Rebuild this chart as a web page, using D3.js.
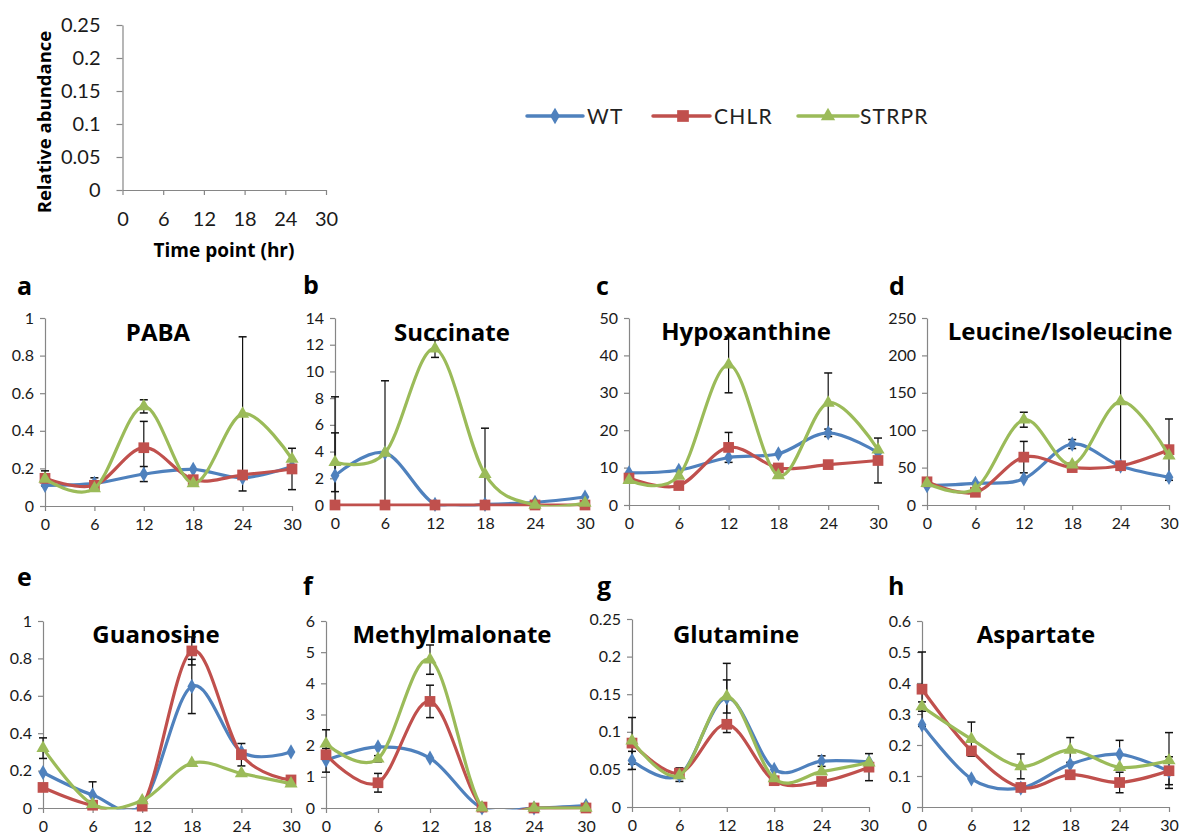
<!DOCTYPE html>
<html>
<head>
<meta charset="utf-8">
<script src="https://cdn.jsdelivr.net/npm/d3@7"></script>
<style>
  html, body { margin: 0; padding: 0; background: #fff; }
  svg { display: block; font-family: Lato, "Open Sans", "Liberation Sans", sans-serif; }
</style>
</head>
<body>
<svg id="chart" width="1179" height="834"></svg>
<script>
// ---------------- DATA ----------------
const timePoints = [0, 6, 12, 18, 24, 30];
const xTickLabels = ["0", "6", "12", "18", "24", "30"];
const seriesNames = ["WT", "CHLR", "STRPR"];
const seriesColors = ["#4F81BD", "#C0504D", "#9BBB59"];

const panelLetters = ["a", "b", "c", "d", "e", "f", "g", "h"];
const panelTitles = ["PABA", "Succinate", "Hypoxanthine", "Leucine/Isoleucine",
                     "Guanosine", "Methylmalonate", "Glutamine", "Aspartate"];

// values per series: [WT, CHLR, STRPR]
const paba = [
  [0.11, 0.12, 0.17, 0.195, 0.15, 0.21],
  [0.147, 0.11, 0.31, 0.14, 0.165, 0.197],
  [0.144, 0.094, 0.53, 0.12, 0.49, 0.25]
];
const pabaErr = [
  [0, 0.03, 0.04, 0, 0, 0],
  [0.04, 0, 0.14, 0, 0, 0.11],
  [0, 0, 0.035, 0, 0.41, 0]
];
const succinate = [
  [2.2, 3.9, 0.05, 0.05, 0.2, 0.6],
  [0, 0, 0, 0, 0, 0],
  [3.2, 3.9, 11.7, 2.3, 0, 0.15]
];
const succinateErr = [
  [5.9, 5.4, 0, 0, 0, 0],
  [0, 0, 0, 0, 0, 0],
  [2.2, 0, 0.65, 3.45, 0, 0]
];
const hypoxanthine = [
  [8.6, 9.3, 12.7, 13.7, 19.3, 14.0],
  [7.2, 5.2, 15.4, 9.9, 10.8, 11.9],
  [6.6, 7.8, 37.5, 7.9, 27.3, 14.8]
];
const hypoxanthineErr = [
  [0, 0, 0, 0, 1, 0],
  [0, 0, 4, 0, 0, 6],
  [0, 0, 7.5, 0, 8, 0]
];
const leucine = [
  [25.8, 29, 35, 81.5, 52, 37],
  [31, 17, 64, 50, 52.5, 74],
  [29, 22, 114, 54, 138.6, 66]
];
const leucineErr = [
  [0, 0, 0, 6, 0, 0],
  [0, 0, 21, 0, 0, 41],
  [0, 0, 10, 0, 86, 0]
];
const guanosine = [
  [0.19, 0.07, 0.02, 0.65, 0.3, 0.30],
  [0.11, 0.015, 0.01, 0.84, 0.285, 0.15],
  [0.32, 0.02, 0.04, 0.24, 0.185, 0.13]
];
const guanosineErr = [
  [0, 0.07, 0, 0.145, 0, 0],
  [0, 0, 0, 0.075, 0.06, 0],
  [0.055, 0, 0, 0, 0, 0]
];
const methylmalonate = [
  [1.53, 1.96, 1.6, 0, 0, 0.08],
  [1.71, 0.81, 3.42, 0.03, 0, 0],
  [2.06, 1.58, 4.76, 0.01, 0, 0]
];
const methylmalonateErr = [
  [0.38, 0, 0, 0, 0, 0],
  [0, 0.3, 0.52, 0, 0, 0],
  [0.45, 0.1, 0.47, 0, 0, 0]
];
const glutamine = [
  [0.062, 0.042, 0.145, 0.05, 0.061, 0.06],
  [0.085, 0.045, 0.11, 0.035, 0.034, 0.053],
  [0.088, 0.042, 0.147, 0.038, 0.047, 0.059]
];
const glutamineErr = [
  [0.012, 0.008, 0.046, 0, 0.007, 0],
  [0, 0.007, 0, 0, 0, 0.018],
  [0.031, 0, 0.022, 0, 0, 0]
];
const aspartate = [
  [0.265, 0.091, 0.061, 0.138, 0.17, 0.115],
  [0.38, 0.181, 0.063, 0.104, 0.079, 0.117],
  [0.324, 0.219, 0.131, 0.184, 0.128, 0.15]
];
const aspartateErr = [
  [0, 0, 0, 0, 0.045, 0],
  [0.12, 0, 0, 0, 0.033, 0.045],
  [0.015, 0.055, 0.04, 0.04, 0, 0.09]
];

// y tick values per panel
const yTicksA = [0, 0.2, 0.4, 0.6, 0.8, 1];
const yTicksB = [0, 2, 4, 6, 8, 10, 12, 14];
const yTicksC = [0, 10, 20, 30, 40, 50];
const yTicksD = [0, 50, 100, 150, 200, 250];
const yTicksE = [0, 0.2, 0.4, 0.6, 0.8, 1];
const yTicksF = [0, 1, 2, 3, 4, 5, 6];
const yTicksG = [0, 0.05, 0.1, 0.15, 0.2, 0.25];
const yTicksH = [0, 0.1, 0.2, 0.3, 0.4, 0.5, 0.6];
const keyYTicks = [0, 0.05, 0.1, 0.15, 0.2, 0.25];

const panelValues = [paba, succinate, hypoxanthine, leucine, guanosine, methylmalonate, glutamine, aspartate];
const panelErrors = [pabaErr, succinateErr, hypoxanthineErr, leucineErr, guanosineErr, methylmalonateErr, glutamineErr, aspartateErr];
const panelYTicks = [yTicksA, yTicksB, yTicksC, yTicksD, yTicksE, yTicksF, yTicksG, yTicksH];

// ---------------- LAYOUT ----------------
const layout = [
  { x0: 45,  x1: 292,  yT: 318, yB: 506, lx: 17,  ly: 295, tx: 158,  ty: 341 },
  { x0: 335, x1: 585,  yT: 318, yB: 505, lx: 303, ly: 294, tx: 452,  ty: 341 },
  { x0: 629, x1: 878,  yT: 318, yB: 505, lx: 596, ly: 295, tx: 746,  ty: 340 },
  { x0: 927, x1: 1169, yT: 318, yB: 505, lx: 889, ly: 295, tx: 1060, ty: 340 },
  { x0: 43,  x1: 291,  yT: 621, yB: 808, lx: 17,  ly: 586, tx: 156,  ty: 643 },
  { x0: 326, x1: 586,  yT: 621, yB: 808, lx: 303, ly: 595, tx: 452,  ty: 643 },
  { x0: 632, x1: 869,  yT: 619, yB: 807, lx: 597, ly: 595, tx: 736,  ty: 643 },
  { x0: 922, x1: 1169, yT: 621, yB: 807, lx: 888, ly: 595, tx: 1036, ty: 643 }
];
const axisColor = "#868686";
const textColor = "#1a1a1a";
const boldFont = "'Open Sans', Lato, sans-serif";

const svg = d3.select("#chart");
const defs = svg.append("defs");

const fmt = d => String(d);

function markerPath(i, size) {
  const types = [d3.symbolDiamond, d3.symbolSquare, d3.symbolTriangle];
  const areas = [size * size * 0.55, size * size * 0.95, size * size * 0.62];
  return d3.symbol().type(types[i]).size(areas[i])();
}

function styleAxis(g, fontSize) {
  g.select(".domain").attr("stroke", axisColor).attr("stroke-width", 1.2);
  g.selectAll(".tick line").attr("stroke", axisColor).attr("stroke-width", 1.2);
  g.selectAll(".tick text").attr("fill", textColor).style("font-size", fontSize + "px")
    .style("font-family", "Lato, 'Open Sans', sans-serif");
}

// ---------------- KEY PANEL (top-left) ----------------
{
  const x = d3.scaleLinear().domain([0, 30]).range([122.5, 326]);
  const y = d3.scaleLinear().domain([0, 0.25]).range([190, 25]);
  const gy = svg.append("g").attr("transform", "translate(122.5,0)")
    .call(d3.axisLeft(y).tickValues(keyYTicks).tickFormat(fmt).tickSize(6).tickSizeOuter(0).tickPadding(16));
  styleAxis(gy, 20);
  const gx = svg.append("g").attr("transform", "translate(0,190)")
    .call(d3.axisBottom(x).tickValues(timePoints).tickFormat((d, i) => xTickLabels[i]).tickSize(5).tickSizeOuter(0).tickPadding(17));
  styleAxis(gx, 20);
  svg.append("text").attr("x", 224).attr("y", 257).attr("text-anchor", "middle")
    .style("font-family", boldFont).style("font-size", "19px").style("font-weight", "bold").attr("fill", "#000")
    .text("Time point (hr)");
  svg.append("text").attr("transform", "translate(51,122) rotate(-90)").attr("text-anchor", "middle")
    .style("font-family", boldFont).style("font-size", "18.5px").style("font-weight", "bold").attr("fill", "#000")
    .text("Relative abundance");
}

// ---------------- LEGEND ----------------
{
  const items = [
    { x1: 527, x2: 583, mx: 555, tx: 587 },
    { x1: 653, x2: 710, mx: 683, tx: 714 },
    { x1: 798, x2: 858, mx: 828, tx: 860 }
  ];
  const ly = 116;
  seriesNames.forEach((name, i) => {
    const it = items[i];
    svg.append("line").attr("x1", it.x1).attr("x2", it.x2).attr("y1", ly).attr("y2", ly)
      .attr("stroke", seriesColors[i]).attr("stroke-width", 3.5).attr("stroke-linecap", "round");
    svg.append("path").attr("d", markerPath(i, 12)).attr("transform", `translate(${it.mx},${ly})`)
      .attr("fill", seriesColors[i]);
    svg.append("text").attr("x", it.tx).attr("y", ly + 8).style("font-size", "21px")
      .style("letter-spacing", "1.2px").attr("fill", "#222").text(name);
  });
}

// ---------------- PANELS ----------------
panelValues.forEach((vals, p) => {
  const L = layout[p];
  const ticks = panelYTicks[p];
  const x = d3.scaleLinear().domain([0, 30]).range([L.x0, L.x1]);
  const y = d3.scaleLinear().domain([0, ticks[ticks.length - 1]]).range([L.yB, L.yT]);
  const g = svg.append("g");

  const gy = g.append("g").attr("transform", `translate(${L.x0},0)`)
    .call(d3.axisLeft(y).tickValues(ticks).tickFormat(fmt).tickSize(5).tickSizeOuter(0).tickPadding(6));
  styleAxis(gy, 16);
  const gx = g.append("g").attr("transform", `translate(0,${L.yB})`)
    .call(d3.axisBottom(x).tickValues(timePoints).tickFormat((d, i) => xTickLabels[i]).tickSize(5).tickSizeOuter(0).tickPadding(8));
  styleAxis(gx, 16);

  // letter + title
  g.append("text").attr("x", L.lx).attr("y", L.ly).style("font-size", "25px").style("font-weight", "bold")
    .style("font-family", boldFont).attr("fill", "#000").text(panelLetters[p]);
  g.append("text").attr("x", L.tx).attr("y", L.ty).attr("text-anchor", "middle")
    .style("font-family", boldFont)
    .style("font-size", "24px").style("font-weight", "bold").attr("fill", "#000").text(panelTitles[p]);

  // clip for lines
  const clipId = "clip" + p;
  defs.append("clipPath").attr("id", clipId).append("rect")
    .attr("x", L.x0 - 20).attr("y", L.yT - 40).attr("width", L.x1 - L.x0 + 40).attr("height", L.yB - L.yT + 41.5);

  // error bars
  const errs = panelErrors[p];
  vals.forEach((series, s) => {
    series.forEach((v, i) => {
      const e = errs[s][i];
      if (!e) return;
      const lo = Math.max(0, v - e), hi = v + e;
      const cx = x(timePoints[i]);
      g.append("line").attr("x1", cx).attr("x2", cx).attr("y1", y(lo)).attr("y2", y(hi))
        .attr("stroke", "#111").attr("stroke-width", 1.2);
      g.append("line").attr("x1", cx - 4).attr("x2", cx + 4).attr("y1", y(hi)).attr("y2", y(hi))
        .attr("stroke", "#111").attr("stroke-width", 1.5);
      if (v - e > 0) {
        g.append("line").attr("x1", cx - 4).attr("x2", cx + 4).attr("y1", y(lo)).attr("y2", y(lo))
          .attr("stroke", "#111").attr("stroke-width", 1.5);
      }
    });
  });

  // lines + markers
  const line = d3.line().x((d, i) => x(timePoints[i])).y(d => y(d)).curve(d3.curveCardinal.tension(0));
  vals.forEach((series, s) => {
    g.append("path").attr("d", line(series)).attr("fill", "none")
      .attr("stroke", seriesColors[s]).attr("stroke-width", 3.2)
      .attr("stroke-linejoin", "round").attr("clip-path", `url(#${clipId})`);
    g.selectAll(null).data(series).enter().append("path")
      .attr("d", markerPath(s, 11))
      .attr("transform", (d, i) => `translate(${x(timePoints[i])},${y(d)})`)
      .attr("fill", seriesColors[s]);
  });
});
</script>
</body>
</html>
